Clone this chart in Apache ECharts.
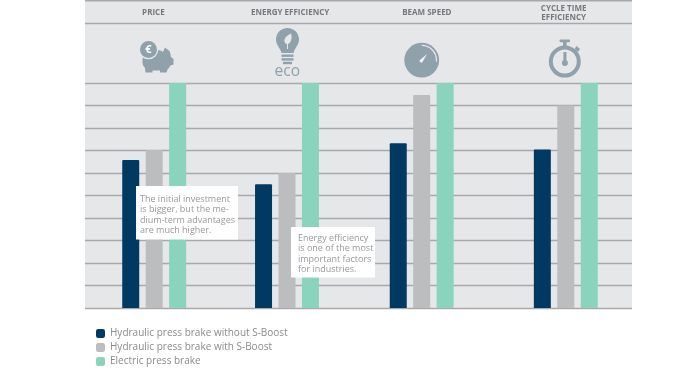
<!doctype html>
<html>

<head>
    <meta charset="utf-8">
    <title>Press brake comparison</title>
    <script type="text/javascript" src="https://cdn.jsdelivr.net/npm/echarts@6/dist/echarts.min.js"></script>
</head>

<body style="margin:0;padding:0;background:#fff;">
    <div id="tb" style="width:700px;height:370px;"></div>
    <script>
        var categories = ['PRICE', 'ENERGY EFFICIENCY', 'BEAM SPEED', 'CYCLE TIME\nEFFICIENCY'];
        var seriesNames = ['Hydraulic press brake without S-Boost', 'Hydraulic press brake with S-Boost', 'Electric press brake'];
        var withoutBoost = [65.8, 55, 73.2, 70.5];
        var withBoost = [70.2, 60, 94.7, 90];
        var electric = [100, 100, 100, 100];
        var notes = [
            'The initial investment\nis bigger, but the me-\ndium-term advantages\nare much higher.',
            'Energy efficiency\nis one of the most\nimportant factors\nfor industries.'
        ];

        var colors = ['#003a63', '#bcbdbf', '#8ad4bd'];
        var lineColor = '#a7a9ac';
        var panelBg = '#e6e7e8';
        var iconColor = '#8fa2ab';
        var font = '"Open Sans"';
        // bar groups are not evenly spaced in the original, so each gets its own grid
        var groupCenters = [154.2, 287, 421.7, 565.8];
        var plotLeft = 85, plotWidth = 547, plotTop = 83, plotHeight = 225;

        // graphic component has no 'path' type, register the icon outlines as shapes
        echarts.graphic.registerShape('pig', echarts.graphic.extendPath('M142.5 60 C143 53 150 50 157 50 C160 50 162 51 163 52 L165 47.5 L169.5 51 C170.5 53 170.5 55 171 57 L173.5 59 L173.5 64.5 L170.5 65.5 C169.5 67 168.5 68.5 167.5 69.5 L166.5 72.5 L160 72.5 L160 70.5 L152.5 70.5 L152.5 72.5 L145.5 72.5 L145 68 C143 66 142 63 142.5 60 Z'));
        echarts.graphic.registerShape('bulb', echarts.graphic.extendPath('M287.4 28 C294 28 299 33 299 39.5 C299 45 295 47.5 293.5 53 L281.5 53 C280 47.5 276 45 276 39.5 C276 33 281 28 287.4 28 Z'));
        echarts.graphic.registerShape('leaf', echarts.graphic.extendPath('M291 33.5 C292.5 38 291 43 288 44 L288 49 L287 49 L287 44 C283 43 283 37 291 33.5 Z'));
        echarts.graphic.registerShape('needle', echarts.graphic.extendPath('M427 54 L422.5 62 C421 63.5 418.5 61.5 420 60 Z'));
        echarts.graphic.registerShape('watchBtn', echarts.graphic.extendPath('M574.5 49 L576.5 46 L580 49 L578 52 Z'));

        var grids = [{ left: plotLeft, width: plotWidth, top: plotTop, height: plotHeight, show: true, backgroundColor: panelBg, borderWidth: 0 }];
        var xAxes = [{
            type: 'category', gridIndex: 0, position: 'top', data: categories,
            axisLine: { show: false }, axisTick: { show: false },
            axisLabel: { margin: 70, verticalAlign: 'middle', color: '#77787b', fontFamily: font, fontWeight: 'bold', fontSize: 8, lineHeight: 8.5, letterSpacing: 0.6, interval: 0 }
        }];
        var yAxes = [{
            type: 'value', gridIndex: 0, min: 0, max: 100, interval: 10,
            axisLine: { show: false }, axisTick: { show: false }, axisLabel: { show: false },
            splitLine: { show: true, lineStyle: { color: lineColor, width: 1.3 } }
        }];
        var series = [];
        var seriesValues = [withoutBoost, withBoost, electric];

        groupCenters.forEach(function (c, i) {
            var g = i + 1;
            grids.push({ left: c - 40, width: 80, top: plotTop, height: plotHeight });
            xAxes.push({ type: 'category', gridIndex: g, data: [categories[i]], show: false });
            yAxes.push({ type: 'value', gridIndex: g, min: 0, max: 100, show: false, splitLine: { show: false } });
            seriesNames.forEach(function (name, s) {
                series.push({
                    name: name, type: 'bar', xAxisIndex: g, yAxisIndex: g,
                    barWidth: 17, barGap: '38%',
                    itemStyle: { color: colors[s], borderRadius: s === 2 ? 0 : [1, 1, 0, 0] },
                    data: [seriesValues[s][i]]
                });
            });
        });

        function hline(y) {
            return { type: 'line', shape: { x1: plotLeft, y1: y, x2: plotLeft + plotWidth, y2: y }, style: { stroke: lineColor, lineWidth: 1.5 }, z: 1 };
        }
        function fill(el, color) {
            el.style = Object.assign({ fill: color || iconColor }, el.style || {});
            el.z = 2;
            return el;
        }
        function noteBox(x, y, w, h, textX, textY, text) {
            return [
                { type: 'rect', shape: { x: x, y: y, width: w, height: h }, style: { fill: '#fff' }, z: 100 },
                {
                    type: 'text', x: textX, y: textY, z: 101,
                    style: { text: text, fill: '#98999c', font: '9px ' + font, lineHeight: 10.4, letterSpacing: 0.2 }
                }
            ];
        }

        var graphics = [
            { type: 'rect', shape: { x: plotLeft, y: 0, width: plotWidth, height: plotTop }, style: { fill: panelBg }, z: 0 },
            hline(0.7), hline(23.5),
            // piggy bank
            fill({ type: 'pig' }),
            fill({ type: 'circle', shape: { cx: 148.5, cy: 49.5, r: 9.8 } }, panelBg),
            fill({ type: 'circle', shape: { cx: 148.5, cy: 49.5, r: 8.5 } }),
            fill({ type: 'text', x: 148.5, y: 50, style: { text: '€', font: 'bold 11px ' + font, align: 'center', verticalAlign: 'middle' } }, '#fff'),
            // eco bulb
            fill({ type: 'bulb' }),
            fill({ type: 'leaf' }, '#e6e7e8'),
            fill({ type: 'rect', shape: { x: 281.5, y: 54.5, width: 12, height: 2.4 } }),
            fill({ type: 'rect', shape: { x: 281.5, y: 58.2, width: 12, height: 2.4 } }),
            fill({ type: 'rect', shape: { x: 283, y: 61.8, width: 9, height: 2.4 } }),
            fill({ type: 'text', x: 287.3, y: 72, style: { text: 'eco', font: '15.5px ' + font, align: 'center', verticalAlign: 'middle' } }),
            // gauge
            fill({ type: 'circle', shape: { cx: 421.7, cy: 60.2, r: 17.4 } }),
            { type: 'arc', shape: { cx: 421.7, cy: 60.2, r: 14.8, startAngle: -Math.PI / 2, endAngle: 0.1 }, style: { stroke: '#e6e7e8', fill: 'none', lineWidth: 1.2 }, z: 3 },
            fill({ type: 'needle' }, '#f2f3f3'),
            // stopwatch
            { type: 'circle', shape: { cx: 564.8, cy: 61.6, r: 14 }, style: { stroke: iconColor, fill: 'none', lineWidth: 4 }, z: 2 },
            fill({ type: 'rect', shape: { x: 559.5, y: 39.5, width: 10.5, height: 2.8, r: 1 } }),
            fill({ type: 'rect', shape: { x: 563, y: 42, width: 3.6, height: 4 } }),
            fill({ type: 'watchBtn' }),
            fill({ type: 'rect', shape: { x: 563.4, y: 52, width: 3, height: 10 } }),
            fill({ type: 'circle', shape: { cx: 564.9, cy: 63, r: 3 } })
        ].concat(
            noteBox(136, 186, 102, 53.5, 140, 194, notes[0]),
            noteBox(291, 227, 84, 50.5, 298, 233, notes[1])
        );

        var btchart = echarts.init(document.getElementById('tb'));
        btchart.setOption({
            animation: false,
            grid: grids,
            xAxis: xAxes,
            yAxis: yAxes,
            legend: {
                left: 96, top: 328.5, orient: 'vertical', padding: 0,
                data: seriesNames.map(function (n) { return { name: n, icon: 'roundRect' }; }),
                itemWidth: 9, itemHeight: 9, itemGap: 4,
                textStyle: { color: '#8a8b8e', fontFamily: font, fontSize: 10, lineHeight: 9, letterSpacing: 0.4 }
            },
            graphic: { elements: graphics },
            series: series
        });
    </script>
</body>

</html>
